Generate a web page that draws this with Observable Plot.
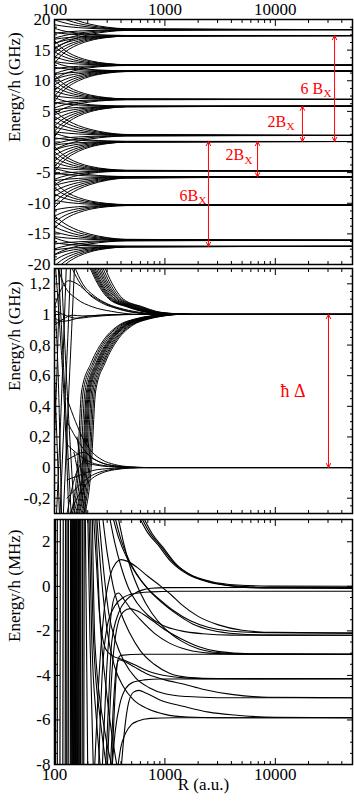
<!DOCTYPE html>
<html><head><meta charset="utf-8">
<script src="https://cdn.jsdelivr.net/npm/d3@7"></script>
<script src="https://cdn.jsdelivr.net/npm/@observablehq/plot@0.6"></script>
<style>
html,body{margin:0;padding:0;background:#fff;}
#wrap{position:relative;width:354px;height:801px;overflow:hidden;}
#wrap svg{position:absolute;left:0;overflow:visible;}
</style></head>
<body><div id="wrap"></div>
<script>
// ---------------- ticks / labels ----------------
const xMajor = [100, 1000, 10000];
const xMajorLabels = ["100", "1000", "10000"];
const xMinor = [200,300,400,500,600,700,800,900,2000,3000,4000,5000,6000,7000,8000,9000,20000,30000,40000];

const p1YTicks = [-20,-15,-10,-5,0,5,10,15,20];
const p1YLabels = ["-20","-15","-10","-5","0","5","10","15","20"];
const p1YMinor = [-18.75,-17.5,-16.25,-13.75,-12.5,-11.25,-8.75,-7.5,-6.25,-3.75,-2.5,-1.25,1.25,2.5,3.75,6.25,7.5,8.75,11.25,12.5,13.75,16.25,17.5,18.75];

const p2YTicks = [-0.2,0,0.2,0.4,0.6,0.8,1,1.2];
const p2YLabels = ["-0,2","0","0,2","0,4","0,6","0,8","1","1,2"];
const p2YMinor = [-0.25,-0.15,-0.1,-0.05,0.05,0.1,0.15,0.25,0.3,0.35,0.45,0.5,0.55,0.65,0.7,0.75,0.85,0.9,0.95,1.05,1.1,1.15,1.25];

const p3YTicks = [-8,-6,-4,-2,0,2];
const p3YLabels = ["-8","-6","-4","-2","0","2"];
const p3YMinor = [-7.5,-7,-6.5,-5.5,-5,-4.5,-3.5,-3,-2.5,-1.5,-1,-0.5,0.5,1,1.5,2.5];

// ---------------- panel 1 (GHz) : fans converging to asymptotic levels ----------------
const R1 = [100, 115, 135, 165, 210, 300, 450, 50000];
const fan18_35 = [
 [21.85,21.08,20.38,19.75,19.23,18.74,18.49,18.35],
 [20.85,20.30,19.80,19.35,18.98,18.63,18.45,18.35],
 [19.95,19.60,19.28,18.99,18.75,18.53,18.41,18.35],
 [19.15,18.97,18.81,18.67,18.55,18.44,18.38,18.35],
 [17.75,17.88,18.00,18.11,18.20,18.28,18.33,18.35],
 [16.95,17.26,17.54,17.79,18.00,18.20,18.29,18.35],
 [16.05,16.56,17.02,17.43,17.78,18.10,18.26,18.35],
 [15.15,15.85,16.49,17.07,17.55,18.00,18.22,18.35]];
const fan17_37 = [
 [18.57,18.23,17.97,17.75,17.59,17.45,17.39,17.37],
 [17.87,17.73,17.62,17.53,17.46,17.41,17.38,17.37],
 [16.77,16.94,17.07,17.18,17.26,17.33,17.36,17.37],
 [16.07,16.43,16.72,16.95,17.14,17.28,17.34,17.37],
 [15.37,15.93,16.37,16.73,17.01,17.23,17.33,17.37],
 [14.57,15.35,15.97,16.47,16.87,17.17,17.31,17.37],
 [13.77,14.78,15.57,16.22,16.72,17.12,17.30,17.37],
 [12.87,14.13,15.12,15.93,16.56,17.06,17.28,17.37]];
const fan12_54 = [
 [16.54,15.42,14.54,13.82,13.26,12.82,12.62,12.54],
 [15.64,14.77,14.09,13.53,13.10,12.76,12.60,12.54],
 [14.74,14.12,13.64,13.24,12.94,12.69,12.58,12.54],
 [13.94,13.55,13.24,12.99,12.79,12.64,12.57,12.54],
 [13.14,12.97,12.84,12.73,12.65,12.58,12.55,12.54],
 [11.94,12.11,12.24,12.35,12.43,12.50,12.53,12.54],
 [11.14,11.53,11.84,12.09,12.29,12.44,12.51,12.54],
 [10.24,10.88,11.39,11.80,12.13,12.38,12.49,12.54]];
const fan11_60 = [
 [13.00,12.61,12.30,12.05,11.85,11.70,11.63,11.60],
 [12.20,12.03,11.90,11.79,11.71,11.64,11.61,11.60],
 [11.00,11.17,11.30,11.41,11.49,11.56,11.59,11.60],
 [10.20,10.59,10.90,11.15,11.35,11.50,11.57,11.60],
 [9.30,9.94,10.45,10.86,11.19,11.44,11.55,11.60],
 [8.40,9.30,10.00,10.58,11.02,11.38,11.54,11.60],
 [7.50,8.65,9.55,10.29,10.86,11.31,11.52,11.60],
 [6.60,8.00,9.10,10.00,10.70,11.25,11.50,11.60]];
const fan6_95 = [
 [10.95,9.83,8.95,8.23,7.67,7.23,7.03,6.95],
 [10.05,9.18,8.50,7.94,7.51,7.17,7.01,6.95],
 [9.15,8.53,8.05,7.65,7.35,7.10,6.99,6.95],
 [8.35,7.96,7.65,7.40,7.20,7.05,6.98,6.95],
 [7.55,7.38,7.25,7.14,7.06,6.99,6.96,6.95],
 [6.35,6.52,6.65,6.76,6.84,6.91,6.94,6.95],
 [5.55,5.94,6.25,6.50,6.70,6.85,6.92,6.95],
 [4.65,5.29,5.80,6.21,6.54,6.79,6.90,6.95]];
const fan5_84 = [
 [7.24,6.85,6.54,6.29,6.09,5.94,5.87,5.84],
 [6.44,6.27,6.14,6.03,5.95,5.88,5.85,5.84],
 [5.24,5.41,5.54,5.65,5.73,5.80,5.83,5.84],
 [4.44,4.83,5.14,5.39,5.59,5.74,5.81,5.84],
 [3.54,4.18,4.69,5.10,5.43,5.68,5.79,5.84],
 [2.64,3.54,4.24,4.82,5.26,5.62,5.78,5.84],
 [1.74,2.89,3.79,4.53,5.10,5.55,5.76,5.84],
 [0.84,2.24,3.34,4.24,4.94,5.49,5.74,5.84]];
const fan1_07 = [
 [5.07,4.19,3.39,2.67,2.07,1.51,1.23,1.07],
 [4.17,3.49,2.87,2.31,1.85,1.41,1.19,1.07],
 [3.27,2.79,2.35,1.95,1.62,1.31,1.16,1.07],
 [2.47,2.16,1.88,1.63,1.42,1.22,1.13,1.07],
 [1.67,1.54,1.42,1.31,1.22,1.14,1.09,1.07],
 [0.47,0.60,0.72,0.83,0.92,1.00,1.05,1.07],
 [-0.33,-0.02,0.26,0.51,0.72,0.92,1.01,1.07],
 [-1.23,-0.72,-0.26,0.15,0.50,0.82,0.98,1.07]];
const fan0_08 = [
 [1.48,1.09,0.78,0.53,0.33,0.18,0.11,0.08],
 [0.68,0.51,0.38,0.27,0.19,0.12,0.09,0.08],
 [-0.52,-0.35,-0.22,-0.11,-0.03,0.04,0.07,0.08],
 [-1.32,-0.93,-0.62,-0.37,-0.17,-0.02,0.05,0.08],
 [-2.22,-1.58,-1.07,-0.66,-0.33,-0.08,0.03,0.08],
 [-3.12,-2.22,-1.52,-0.94,-0.50,-0.14,0.02,0.08],
 [-4.02,-2.87,-1.97,-1.23,-0.66,-0.21,0.00,0.08],
 [-4.92,-3.52,-2.42,-1.52,-0.82,-0.27,-0.02,0.08]];
const fanM4_70 = [
 [-0.70,-1.82,-2.70,-3.42,-3.98,-4.42,-4.62,-4.70],
 [-1.60,-2.47,-3.15,-3.71,-4.14,-4.48,-4.64,-4.70],
 [-2.50,-3.12,-3.60,-4.00,-4.30,-4.55,-4.66,-4.70],
 [-3.30,-3.69,-4.00,-4.25,-4.45,-4.60,-4.67,-4.70],
 [-4.10,-4.27,-4.40,-4.51,-4.59,-4.66,-4.69,-4.70],
 [-5.30,-5.13,-5.00,-4.89,-4.81,-4.74,-4.71,-4.70],
 [-6.10,-5.71,-5.40,-5.15,-4.95,-4.80,-4.73,-4.70],
 [-7.00,-6.36,-5.85,-5.44,-5.11,-4.86,-4.75,-4.70]];
const fanM5_70 = [
 [-4.30,-4.61,-4.89,-5.14,-5.35,-5.55,-5.64,-5.70],
 [-5.10,-5.23,-5.35,-5.46,-5.55,-5.63,-5.68,-5.70],
 [-6.30,-6.17,-6.05,-5.94,-5.85,-5.77,-5.72,-5.70],
 [-7.10,-6.79,-6.51,-6.26,-6.05,-5.85,-5.76,-5.70],
 [-8.00,-7.49,-7.03,-6.62,-6.28,-5.95,-5.79,-5.70],
 [-8.90,-8.20,-7.56,-6.98,-6.50,-6.05,-5.83,-5.70],
 [-9.80,-8.90,-8.08,-7.34,-6.73,-6.15,-5.86,-5.70],
 [-10.70,-9.60,-8.60,-7.70,-6.95,-6.25,-5.90,-5.70]];
const fanM10_30 = [
 [-6.50,-7.56,-8.40,-9.08,-9.62,-10.03,-10.22,-10.30],
 [-7.50,-8.28,-8.90,-9.40,-9.80,-10.10,-10.24,-10.30],
 [-8.50,-9.00,-9.40,-9.72,-9.98,-10.17,-10.26,-10.30],
 [-9.50,-9.72,-9.90,-10.04,-10.16,-10.24,-10.28,-10.30],
 [-11.10,-10.88,-10.70,-10.56,-10.44,-10.36,-10.32,-10.30],
 [-12.10,-11.60,-11.20,-10.88,-10.62,-10.43,-10.34,-10.30],
 [-13.10,-12.32,-11.70,-11.20,-10.80,-10.50,-10.36,-10.30],
 [-14.10,-13.04,-12.20,-11.52,-10.98,-10.57,-10.38,-10.30]];
const fanM16_05 = [
 [-12.05,-12.93,-13.73,-14.45,-15.05,-15.61,-15.89,-16.05],
 [-12.95,-13.63,-14.25,-14.81,-15.28,-15.71,-15.93,-16.05],
 [-13.85,-14.33,-14.77,-15.17,-15.50,-15.81,-15.96,-16.05],
 [-14.65,-14.96,-15.24,-15.49,-15.70,-15.90,-15.99,-16.05],
 [-15.45,-15.58,-15.70,-15.81,-15.90,-15.98,-16.03,-16.05],
 [-16.65,-16.52,-16.40,-16.29,-16.20,-16.12,-16.07,-16.05],
 [-17.45,-17.14,-16.86,-16.61,-16.40,-16.20,-16.11,-16.05],
 [-18.35,-17.84,-17.38,-16.97,-16.63,-16.30,-16.14,-16.05]];
const fanM17_04 = [
 [-15.64,-16.03,-16.34,-16.59,-16.79,-16.94,-17.01,-17.04],
 [-16.44,-16.61,-16.74,-16.85,-16.93,-17.00,-17.03,-17.04],
 [-17.64,-17.47,-17.34,-17.23,-17.15,-17.08,-17.05,-17.04],
 [-18.44,-18.05,-17.74,-17.49,-17.29,-17.14,-17.07,-17.04],
 [-19.34,-18.70,-18.19,-17.78,-17.45,-17.20,-17.09,-17.04],
 [-20.24,-19.34,-18.64,-18.06,-17.62,-17.26,-17.10,-17.04],
 [-21.14,-19.99,-19.09,-18.35,-17.78,-17.33,-17.12,-17.04],
 [-22.04,-20.64,-19.54,-18.64,-17.94,-17.39,-17.14,-17.04]];

const p1Arrows = [
 {R: 34400, E1: 17.37, E2: 0.08},
 {R: 17600, E1: 5.84, E2: 0.08},
 {R: 6900, E1: 0.08, E2: -5.70},
 {R: 2480, E1: 0.08, E2: -17.04}];
const p1Labels = [
 {R: 16900, E: 8.7, text: "6 B", subR: 27340, subE: 8.0},
 {R: 8490, E: 3.35, text: "2B", subR: 12630, subE: 2.5},
 {R: 3540, E: -2.04, text: "2B", subR: 5260, subE: -3.0},
 {R: 1355, E: -8.73, text: "6B", subR: 2015, subE: -9.55}];
const subText = "X";

// ---------------- panel 2 (GHz, zoom on 0 and 1) ----------------
const p2UpperE = [1.32, 1.2, 1.1, 1.05, 1.02, 1.005, 1.0, 1.0];
const p2UpperR = [
 [205,246,312,450,620,930,1500,50000],
 [210,252,320,462,636,952,1540,50000],
 [215,258,327,474,650,975,1575,50000],
 [220,264,335,486,666,998,1610,50000],
 [226,271,343,500,684,1020,1650,50000],
 [233,280,354,517,706,1050,1700,50000],
 [241,289,366,537,728,1090,1750,50000],
 [249,298,378,558,752,1120,1800,50000],
 [258,308,390,580,778,1160,1850,50000],
 [268,320,404,603,805,1200,1900,50000],
 [280,334,420,628,835,1250,1950,50000]];
const p2LowerE = [-0.32, 0.0, 0.5, 0.685, 0.835, 0.93, 0.97, 0.99, 1.0, 1.0];
const p2LowerR = [
 [138,161,176,215,280,383,533,731,1032,50000],
 [142,166,182,223,289,396,552,757,1068,50000],
 [147,172,189,230,299,409,570,782,1104,50000],
 [152,178,195,238,309,423,589,808,1140,50000],
 [155,181,199,243,315,432,601,825,1164,50000],
 [158,185,203,248,322,441,614,842,1188,50000],
 [162,189,207,253,328,449,626,859,1212,50000],
 [165,193,211,258,335,458,639,876,1236,50000],
 [170,198,217,265,345,472,657,901,1272,50000],
 [174,204,223,273,354,485,676,927,1308,50000],
 [179,209,230,280,364,498,694,952,1344,50000],
 [184,215,236,288,374,512,713,978,1380,50000]];
const p2ZeroR = [130, 155, 184, 220, 270, 350, 480, 700, 50000];
const p2ZeroE = [
 [0.45,0.30,0.18,0.10,0.05,0.02,0.005,0,0],
 [0.30,0.20,0.12,0.065,0.03,0.012,0.003,0,0],
 [0.15,0.10,0.06,0.03,0.015,0.005,0.001,0,0],
 [-0.08,-0.06,-0.04,-0.02,-0.01,-0.004,0,0,0],
 [-0.20,-0.14,-0.09,-0.05,-0.025,-0.01,-0.002,0,0],
 [-0.35,-0.22,-0.13,-0.07,-0.035,-0.014,-0.004,0,0],
 [0.05,0.08,0.10,0.06,0.03,0.01,0.002,0,0],
 [-0.30,-0.05,0.03,0.02,0.01,0.004,0,0,0]];
const p2Other = [
 [[140,1.32],[165,1.22],[200,1.14],[260,1.08],[360,1.04],[550,1.01],[900,1.0],[50000,1.0]],
 [[150,1.32],[180,1.2],[230,1.12],[300,1.07],[420,1.035],[650,1.01],[1000,1.0],[50000,1.0]],
 [[100,1.05],[118,1.18],[134,1.22],[160,1.2],[210,1.13],[290,1.07],[420,1.03],[700,1.005],[1100,1.0],[50000,1.0]],
 [[105,1.32],[125,1.18],[160,1.1],[220,1.05],[330,1.02],[600,1.0],[50000,1.0]],
 [[100,0.98],[115,0.955],[135,0.96],[170,0.98],[230,0.993],[400,1.0],[50000,1.0]],
 [[100,0.93],[120,0.97],[145,0.995],[180,0.99],[260,0.995],[450,1.0],[50000,1.0]],
 [[104,1.02],[130,0.99],[160,0.975],[220,0.985],[330,0.995],[600,1.0],[50000,1.0]]];
const p2Steep = [
 [[100,1.1],[108,0.6],[116,-0.32]],
 [[102,1.32],[112,0.9],[125,0.3],[135,-0.32]],
 [[108,1.32],[118,0.8],[130,0.2],[142,-0.32]],
 [[115,1.32],[126,0.7],[140,0.1],[152,-0.32]],
 [[100,0.6],[105,0.2],[111,-0.32]],
 [[104,-0.32],[115,0.4],[122,0.9],[128,1.32]],
 [[112,-0.32],[122,0.3],[132,0.85],[140,1.32]],
 [[120,-0.32],[132,0.35],[143,0.9],[152,1.32]],
 [[100,0.2],[106,0.7],[112,1.32]],
 [[150,0.1],[170,-0.1],[190,-0.32]],
 [[160,0.2],[178,-0.05],[196,-0.32]]];
const p2Arrows = [{R: 30300, E1: 1.0, E2: 0.0}];
const p2Labels = [{R: 11140, E: 0.5, text: "ħ Δ"}];

// ---------------- panel 3 (MHz) ----------------
const p3VertE = [3.3, -8.3];
const p3Vert = [[102,102],[106,106],[113,112],[120,119],[126,125],[130,129],[134,133],[140,139],[143,142],[146,145],[148,147],[150,149],[152,151],[154,153],[156,155],[158,157],[160,159],[163,162],[165,164],[168,167],[171,170],[174,172],[180,178],[186,184]];
const p3Steep = [
 [[190,3.3],[195,-2.5],[200,-8.3]],
 [[200,3.3],[210,-2.5],[225,-8.3]],
 [[205,3.3],[218,-2.5],[240,-6],[262,-8.3]],
 [[212,3.3],[226,-2.5],[260,-6],[300,-8.3]],
 [[220,3.3],[232,-2.5],[285,-6.5],[340,-8.3]],
 [[235,3.3],[255,-1],[300,-5],[375,-8.3]]];
const p3ToZero = [
 [[560,3.3],[700,2.4],[860,1.88],[1130,1.12],[1620,0.53],[2450,0.2],[4250,0.02],[8000,-0.04],[50000,-0.05]],
 [[585,3.3],[730,2.4],[900,1.85],[1180,1.1],[1700,0.52],[2600,0.22],[4500,0.06],[9000,0.01],[50000,0]],
 [[610,3.3],[770,2.35],[950,1.78],[1250,1.02],[1800,0.45],[2800,0.15],[5000,-0.04],[10000,-0.09],[50000,-0.1]],
 [[250,-8.3],[270,-4],[300,-1.8],[350,-0.9],[420,-0.5],[520,-0.33],[750,-0.25],[1200,-0.22],[50000,-0.22]],
 [[290,-8.3],[310,-5],[330,-2.5],[380,-1.2],[450,-0.6],[520,-0.35],[620,-0.17],[750,-0.09],[1000,-0.06],[50000,-0.05]]];
const p3ToMinus2 = [
 [[330,3.3],[380,2.2],[450,1.3],[560,0.5],[700,-0.1],[900,-0.6],[1200,-1.1],[1700,-1.55],[2500,-1.85],[4000,-2.02],[8000,-2.08],[50000,-2.1]],
 [[345,3.3],[400,2.1],[470,1.2],[590,0.35],[740,-0.25],[950,-0.75],[1280,-1.25],[1800,-1.7],[2700,-1.98],[4500,-2.13],[9000,-2.19],[50000,-2.2]],
 [[310,3.3],[350,2.0],[400,0.9],[470,-0.1],[560,-0.75],[700,-1.3],[950,-1.75],[1400,-2.0],[2200,-2.13],[4000,-2.19],[50000,-2.2]],
 [[230,-8.3],[250,-4.5],[280,-1.2],[320,0.5],[360,1.05],[400,1.2],[460,1.12],[560,0.85],[700,0.45],[920,0.0],[1150,-0.4],[1400,-0.8],[2000,-1.35],[3000,-1.72],[5000,-1.97],[10000,-2.07],[50000,-2.1]]];
const p3ToLower = [
 [[370,3.3],[420,2.0],[490,0.8],[600,-0.3],[760,-1.2],[1000,-1.9],[1400,-2.45],[2000,-2.8],[3000,-2.97],[6000,-3.04],[50000,-3.05]],
 [[270,-8.3],[295,-4],[325,-1.3],[355,-0.4],[380,-0.3],[420,-0.55],[480,-0.95],[600,-1.5],[800,-2.1],[1100,-2.55],[1600,-2.85],[2500,-3.0],[5000,-3.05],[50000,-3.05]],
 [[300,-8.3],[330,-4],[370,-1.8],[420,-1.15],[480,-1.0],[560,-1.1],[750,-1.5],[1000,-1.95],[1400,-2.35],[2000,-2.7],[3000,-2.92],[6000,-3.03],[50000,-3.05]],
 [[330,-8.3],[345,-6],[360,-4.2],[375,-3.3],[400,-3.1],[600,-3.05],[50000,-3.05]],
 [[270,3.3],[300,1.5],[340,0],[400,-1.2],[480,-2.1],[600,-2.9],[800,-3.5],[1100,-3.9],[1600,-4.08],[3000,-4.14],[50000,-4.15]],
 [[225,3.3],[240,1.0],[255,-1.2],[270,-2.2],[290,-2.8],[330,-3.1],[420,-3.3],[520,-3.5],[700,-3.8],[1060,-4.03],[1600,-4.12],[3000,-4.15],[50000,-4.15]],
 [[330,-8.3],[355,-6.5],[390,-5.3],[440,-4.6],[520,-4.3],[650,-4.2],[900,-4.16],[50000,-4.15]],
 [[250,3.3],[275,1.0],[310,-1.2],[360,-2.5],[430,-3.4],[540,-4.1],[720,-4.55],[1000,-4.82],[1600,-4.95],[3000,-5.0],[50000,-5.0]],
 [[320,-8.3],[340,-5.5],[360,-3.8],[385,-3.3],[420,-3.35],[520,-3.6],[700,-3.95],[1000,-4.2],[1500,-4.4],[2200,-4.62],[4000,-4.85],[8600,-4.98],[50000,-5.0]],
 [[240,3.3],[265,0.5],[300,-2],[350,-3.6],[420,-4.5],[520,-5.1],[700,-5.5],[1000,-5.75],[1600,-5.87],[3000,-5.9],[50000,-5.9]],
 [[400,-8.3],[430,-6.5],[470,-5.2],[520,-4.75],[580,-4.67],[680,-4.8],[900,-5.1],[1500,-5.4],[2500,-5.65],[4250,-5.78],[10000,-5.88],[50000,-5.9]],
 [[370,-8.3],[400,-7.2],[440,-6.6],[500,-6.2],[570,-6.05],[740,-5.93],[1200,-5.9],[50000,-5.9]]];

// ---------------- helpers ----------------
let uid = 0;
const gridRows = (xs, ys) => { const id = uid++; return xs.map((R, i) => ({id, R, E: ys[i]})); };
const pairRows = (pts) => { const id = uid++; return pts.map(([R, E]) => ({id, R, E})); };

const FONT = "'Liberation Serif','Times New Roman',Times,serif";
const common = {
  width: 354, marginLeft: 54, marginRight: 2,
  x: {type: "log", domain: [100, 50000], axis: null},
  style: {fontFamily: FONT, fontSize: "17px", overflow: "visible", background: "transparent", color: "black"}
};

function frameTicks(yMaj, yMin) {
  const o = {fill: "none", label: null, stroke: "black", strokeWidth: 1};
  return [
    Plot.axisX(xMajor, {...o, anchor: "top", tickSize: 6, dy: 6}),
    Plot.axisX(xMinor, {...o, anchor: "top", tickSize: 3, dy: 3}),
    Plot.axisX(xMajor, {...o, anchor: "bottom", tickSize: 6, dy: -6}),
    Plot.axisX(xMinor, {...o, anchor: "bottom", tickSize: 3, dy: -3}),
    Plot.axisY(yMaj, {...o, anchor: "left", tickSize: 6, dx: 6}),
    Plot.axisY(yMin, {...o, anchor: "left", tickSize: 3, dx: 3}),
    Plot.axisY(yMaj, {...o, anchor: "right", tickSize: 6, dx: -6}),
    Plot.axisY(yMin, {...o, anchor: "right", tickSize: 3, dx: -3}),
    Plot.frame({stroke: "black", strokeWidth: 1.5})
  ];
}
const yLabels = (ticks, labels) => Plot.axisY(ticks, {anchor: "left", tickSize: 0, tickPadding: 4, label: null, tickFormat: d => labels[ticks.indexOf(d)]});
const yTitle = (t) => Plot.text([t], {frameAnchor: "left", rotate: -90, dx: -40, fontSize: 17});
const lineOpts = {x: "R", y: "E", z: "id", curve: "monotone-x", stroke: "black", strokeWidth: 1, clip: true};
function arrows(data) {
  const o = {x1: "R", x2: "R", stroke: "red", strokeWidth: 1, headLength: 7, headAngle: 55};
  return [
    Plot.arrow(data, {...o, y1: d => (d.E1 + d.E2) / 2, y2: "E1"}),
    Plot.arrow(data, {...o, y1: d => (d.E1 + d.E2) / 2, y2: "E2"})
  ];
}

// ---------------- panel 1 ----------------
const p1Rows = [];
[fan18_35, fan17_37, fan12_54, fan11_60, fan6_95, fan5_84, fan1_07, fan0_08, fanM4_70, fanM5_70, fanM10_30, fanM16_05, fanM17_04]
  .forEach(fan => fan.forEach(line => p1Rows.push(...gridRows(R1, line))));

const svg1 = Plot.plot({
  ...common, height: 266, marginTop: 19, marginBottom: 2,
  y: {domain: [-20, 20], axis: null},
  marks: [
    Plot.line(p1Rows, lineOpts),
    ...arrows(p1Arrows),
    Plot.text(p1Labels, {x: "R", y: "E", text: "text", textAnchor: "start", fill: "red", fontSize: 16}),
    Plot.text(p1Labels, {x: "subR", y: "subE", text: () => subText, textAnchor: "start", fill: "red", fontSize: 11}),
    ...frameTicks(p1YTicks, p1YMinor),
    Plot.axisX(xMajor, {anchor: "top", tickSize: 0, tickPadding: 5, label: null, tickFormat: d => xMajorLabels[xMajor.indexOf(d)]}),
    yLabels(p1YTicks, p1YLabels),
    yTitle("Energy/h (GHz)")
  ]
});

// ---------------- panel 2 ----------------
const p2Rows = [];
p2UpperR.forEach(r => p2Rows.push(...gridRows(r, p2UpperE)));
p2LowerR.forEach(r => p2Rows.push(...gridRows(r, p2LowerE)));
p2ZeroE.forEach(e => p2Rows.push(...gridRows(p2ZeroR, e)));
p2Other.forEach(p => p2Rows.push(...pairRows(p)));
p2Steep.forEach(p => p2Rows.push(...pairRows(p)));

const svg2 = Plot.plot({
  ...common, height: 251, marginTop: 4, marginBottom: 2,
  y: {domain: [-0.3, 1.3], axis: null},
  marks: [
    Plot.line(p2Rows, lineOpts),
    ...arrows(p2Arrows),
    Plot.text(p2Labels, {x: "R", y: "E", text: "text", textAnchor: "start", fill: "red", fontSize: 18}),
    ...frameTicks(p2YTicks, p2YMinor),
    yLabels(p2YTicks, p2YLabels),
    yTitle("Energy/h (GHz)")
  ]
});

// ---------------- panel 3 ----------------
const p3VRows = [];
p3Vert.forEach(v => p3VRows.push(...gridRows(v, p3VertE)));
const p3Rows = [];
[...p3Steep, ...p3ToZero, ...p3ToMinus2, ...p3ToLower].forEach(p => p3Rows.push(...pairRows(p)));

const svg3 = Plot.plot({
  ...common, height: 286, marginTop: 4, marginBottom: 37,
  y: {domain: [-8, 3], axis: null},
  marks: [
    Plot.line(p3VRows, {...lineOpts, curve: "linear", strokeWidth: 1.2}),
    Plot.line(p3Rows, {...lineOpts, strokeWidth: 1.1}),
    ...frameTicks(p3YTicks, p3YMinor),
    Plot.axisX(xMajor, {anchor: "bottom", tickSize: 0, tickPadding: 3, label: null, tickFormat: d => xMajorLabels[xMajor.indexOf(d)]}),
    yLabels(p3YTicks, p3YLabels),
    yTitle("Energy/h (MHz)"),
    Plot.text(["R (a.u.)"], {frameAnchor: "bottom", dy: 25, fontSize: 17})
  ]
});

const wrap = document.getElementById("wrap");
[[svg1, 0], [svg2, 264], [svg3, 515]].forEach(([s, top]) => {
  s.style.position = "absolute"; s.style.top = top + "px"; s.style.left = "0px";
  wrap.appendChild(s);
});
</script>
</body></html>
